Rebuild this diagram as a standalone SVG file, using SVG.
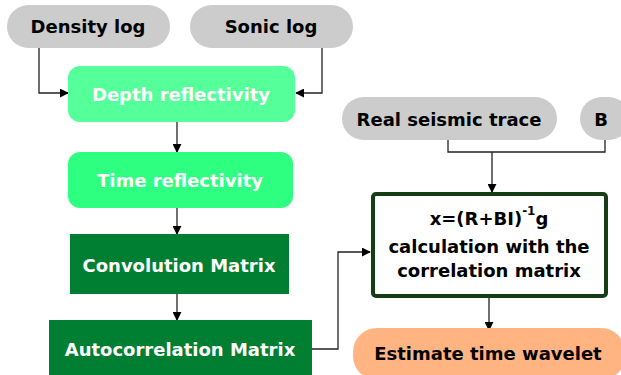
<svg xmlns="http://www.w3.org/2000/svg" width="621" height="375" viewBox="0 0 621 375">
<defs>
<style>
text{font-family:"DejaVu Sans","Verdana",sans-serif;font-weight:bold;font-size:18px;text-anchor:middle;dominant-baseline:central}
.dk{fill:#000}
.wt{fill:#fff}
.gray{fill:#cccccc}
.ln{fill:none;stroke:#222;stroke-width:1.3}
.conn{fill:none;stroke:#222;stroke-width:1.3;marker-end:url(#ah)}
</style>
<marker id="ah" viewBox="0 0 10 10" refX="9" refY="5" markerWidth="9" markerHeight="9" markerUnits="userSpaceOnUse" orient="auto">
<path d="M0,0L10,5L0,10Z" fill="#000"/>
</marker>
</defs>
<rect width="621" height="375" fill="#fff"/>
<g id="connectors">
<path class="conn" d="M39,42V93H68"/>
<path class="conn" d="M322,42V93H296"/>
<path class="conn" d="M177,122V152"/>
<path class="conn" d="M177,208V234"/>
<path class="conn" d="M177,294V320"/>
<path class="conn" d="M312,349H338V252H370"/>
<path class="ln" d="M448,138V152H605V138"/>
<path class="conn" d="M492,152V192"/>
<path class="conn" d="M489,296V330"/>
</g>
<g id="density-log">
<rect x="7" y="5" width="163" height="43" rx="21.5" class="gray"/>
<text x="88" y="26.5" class="dk">Density log</text>
</g>
<g id="sonic-log">
<rect x="190" y="5" width="163" height="43" rx="21.5" class="gray"/>
<text x="271" y="26.5" class="dk">Sonic log</text>
</g>
<g id="depth-reflectivity">
<rect x="68" y="66" width="227" height="56" rx="12" fill="#55ff99"/>
<text x="181" y="94" class="wt">Depth reflectivity</text>
</g>
<g id="time-reflectivity">
<rect x="68" y="152" width="225" height="56" rx="12" fill="#2eff80"/>
<text x="180" y="180" class="wt">Time reflectivity</text>
</g>
<g id="convolution-matrix">
<rect x="70" y="234" width="219" height="60" fill="#007f33"/>
<text x="179" y="265" class="wt">Convolution Matrix</text>
</g>
<g id="autocorrelation-matrix">
<rect x="49" y="320" width="263" height="60" fill="#007f33"/>
<text x="180" y="349" class="wt">Autocorrelation Matrix</text>
</g>
<g id="real-seismic-trace">
<rect x="342" y="97" width="215" height="43" rx="21.5" class="gray"/>
<text x="449" y="119" class="dk">Real seismic trace</text>
</g>
<g id="b">
<rect x="580" y="97" width="50" height="43" rx="21.5" class="gray"/>
<text x="601" y="119" class="dk">B</text>
</g>
<g id="calculation">
<rect x="373" y="194" width="233" height="102" rx="3" fill="#fff" stroke="#173d17" stroke-width="4"/>
<text x="489" y="218" class="dk">x=(R+BI)<tspan font-size="12" dy="-7">-1</tspan><tspan dy="7">g</tspan></text>
<text x="489" y="246" class="dk">calculation with the</text>
<text x="489" y="270" class="dk">correlation matrix</text>
</g>
<g id="estimate-time-wavelet">
<rect x="353" y="328" width="272" height="52" rx="24" fill="#ffb482"/>
<text x="488" y="353" class="dk">Estimate time wavelet</text>
</g>
</svg>
